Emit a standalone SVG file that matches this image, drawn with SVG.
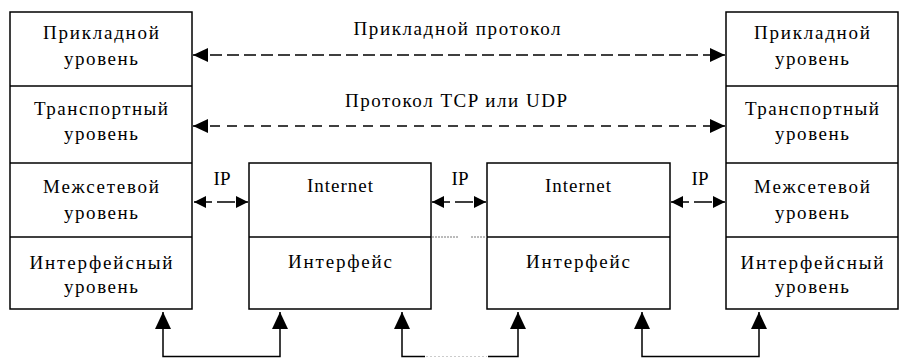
<svg xmlns="http://www.w3.org/2000/svg" width="899" height="358" viewBox="0 0 899 358">
<style>
.box{fill:#fff;stroke:#000;stroke-width:1.5}
.div{stroke:#000;stroke-width:1.5}
.c{fill:none;stroke:#000;stroke-width:1.5}
.dot{fill:none;stroke:#777;stroke-width:1;stroke-dasharray:2 1}
</style>
<defs>
<marker id="ah" markerUnits="userSpaceOnUse" markerWidth="15" markerHeight="14" refX="15" refY="7" orient="auto-start-reverse"><path d="M0,0L15,7L0,14z" fill="#000"/></marker>
<marker id="as" markerUnits="userSpaceOnUse" markerWidth="12" markerHeight="12" refX="12" refY="6" orient="auto-start-reverse"><path d="M0,0L12,6L0,12z" fill="#000"/></marker>
<marker id="au" markerUnits="userSpaceOnUse" markerWidth="17" markerHeight="16" refX="17" refY="8" orient="auto-start-reverse"><path d="M0,0L17,8L0,16z" fill="#000"/></marker>
</defs>
<g id="host-left">
<rect class="box" x="10" y="12" width="182" height="297"/>
<line class="div" x1="10" y1="86" x2="192" y2="86"/>
<line class="div" x1="10" y1="163" x2="192" y2="163"/>
<line class="div" x1="10" y1="237" x2="192" y2="237"/>
<text style="font-family:'Liberation Serif',serif;font-size:19px;text-anchor:middle" x="101" y="39" textLength="116" lengthAdjust="spacing">Прикладной</text>
<text style="font-family:'Liberation Serif',serif;font-size:19px;text-anchor:middle" x="101" y="65" textLength="74" lengthAdjust="spacing">уровень</text>
<text style="font-family:'Liberation Serif',serif;font-size:19px;text-anchor:middle" x="101" y="115" textLength="134" lengthAdjust="spacing">Транспортный</text>
<text style="font-family:'Liberation Serif',serif;font-size:19px;text-anchor:middle" x="101" y="140" textLength="74" lengthAdjust="spacing">уровень</text>
<text style="font-family:'Liberation Serif',serif;font-size:19px;text-anchor:middle" x="101" y="193" textLength="116" lengthAdjust="spacing">Межсетевой</text>
<text style="font-family:'Liberation Serif',serif;font-size:19px;text-anchor:middle" x="101" y="219" textLength="74" lengthAdjust="spacing">уровень</text>
<text style="font-family:'Liberation Serif',serif;font-size:19px;text-anchor:middle" x="101" y="269" textLength="143" lengthAdjust="spacing">Интерфейсный</text>
<text style="font-family:'Liberation Serif',serif;font-size:19px;text-anchor:middle" x="101" y="293" textLength="74" lengthAdjust="spacing">уровень</text>
</g>
<g id="router-1">
<rect class="box" x="249" y="163" width="182" height="146"/>
<line class="div" x1="249" y1="237" x2="431" y2="237"/>
<text style="font-family:'Liberation Serif',serif;font-size:19px;text-anchor:middle" x="340" y="192" textLength="66" lengthAdjust="spacing">Internet</text>
<text style="font-family:'Liberation Serif',serif;font-size:19px;text-anchor:middle" x="340" y="268" textLength="104" lengthAdjust="spacing">Интерфейс</text>
</g>
<g id="router-2">
<rect class="box" x="487" y="163" width="183" height="146"/>
<line class="div" x1="487" y1="237" x2="670" y2="237"/>
<text style="font-family:'Liberation Serif',serif;font-size:19px;text-anchor:middle" x="578" y="192" textLength="66" lengthAdjust="spacing">Internet</text>
<text style="font-family:'Liberation Serif',serif;font-size:19px;text-anchor:middle" x="578" y="268" textLength="104" lengthAdjust="spacing">Интерфейс</text>
</g>
<g id="host-right">
<rect class="box" x="726" y="12" width="172" height="297"/>
<line class="div" x1="726" y1="86" x2="898" y2="86"/>
<line class="div" x1="726" y1="163" x2="898" y2="163"/>
<line class="div" x1="726" y1="237" x2="898" y2="237"/>
<text style="font-family:'Liberation Serif',serif;font-size:19px;text-anchor:middle" x="812" y="39" textLength="116" lengthAdjust="spacing">Прикладной</text>
<text style="font-family:'Liberation Serif',serif;font-size:19px;text-anchor:middle" x="812" y="65" textLength="74" lengthAdjust="spacing">уровень</text>
<text style="font-family:'Liberation Serif',serif;font-size:19px;text-anchor:middle" x="812" y="115" textLength="134" lengthAdjust="spacing">Транспортный</text>
<text style="font-family:'Liberation Serif',serif;font-size:19px;text-anchor:middle" x="812" y="140" textLength="74" lengthAdjust="spacing">уровень</text>
<text style="font-family:'Liberation Serif',serif;font-size:19px;text-anchor:middle" x="812" y="193" textLength="116" lengthAdjust="spacing">Межсетевой</text>
<text style="font-family:'Liberation Serif',serif;font-size:19px;text-anchor:middle" x="812" y="219" textLength="74" lengthAdjust="spacing">уровень</text>
<text style="font-family:'Liberation Serif',serif;font-size:19px;text-anchor:middle" x="812" y="269" textLength="143" lengthAdjust="spacing">Интерфейсный</text>
<text style="font-family:'Liberation Serif',serif;font-size:19px;text-anchor:middle" x="812" y="293" textLength="74" lengthAdjust="spacing">уровень</text>
</g>
<g id="connectors">
<line class="c" x1="193" y1="55" x2="725" y2="55" stroke-dasharray="12 5" marker-start="url(#ah)" marker-end="url(#ah)"/>
<text style="font-family:'Liberation Serif',serif;font-size:19px;text-anchor:middle" x="457" y="35" textLength="207" lengthAdjust="spacing">Прикладной протокол</text>
<line class="c" x1="193" y1="126" x2="725" y2="126" stroke-dasharray="10 7" marker-start="url(#ah)" marker-end="url(#ah)"/>
<text style="font-family:'Liberation Serif',serif;font-size:19px;text-anchor:middle" x="456" y="107" textLength="222" lengthAdjust="spacing">Протокол TCP или UDP</text>
<line class="c" x1="194" y1="202" x2="248" y2="202" stroke-dasharray="18 5" marker-start="url(#as)" marker-end="url(#as)"/>
<text style="font-family:'Liberation Serif',serif;font-size:19px;text-anchor:middle" x="222" y="185" textLength="17" lengthAdjust="spacing">IP</text>
<line class="c" x1="432" y1="202" x2="486" y2="202" stroke-dasharray="18 5" marker-start="url(#as)" marker-end="url(#as)"/>
<text style="font-family:'Liberation Serif',serif;font-size:19px;text-anchor:middle" x="460" y="185" textLength="17" lengthAdjust="spacing">IP</text>
<line class="c" x1="671" y1="202" x2="725" y2="202" stroke-dasharray="18 5" marker-start="url(#as)" marker-end="url(#as)"/>
<text style="font-family:'Liberation Serif',serif;font-size:19px;text-anchor:middle" x="700" y="185" textLength="17" lengthAdjust="spacing">IP</text>
<line class="dot" x1="432" y1="237" x2="458" y2="237"/>
<line class="dot" x1="471" y1="237" x2="487" y2="237"/>
<path class="c" d="M163,312V356.5H280V312" marker-start="url(#au)" marker-end="url(#au)"/>
<path class="c" d="M642,312V356.5H759V312" marker-start="url(#au)" marker-end="url(#au)"/>
<path class="c" d="M425,356.5H402V312" marker-end="url(#au)"/>
<path class="c" d="M488,356.5H518V312" marker-end="url(#au)"/>
<line x1="426" y1="356.5" x2="487" y2="356.5" stroke="#ccc" stroke-width="1" stroke-dasharray="2 2"/>
</g>
</svg>
